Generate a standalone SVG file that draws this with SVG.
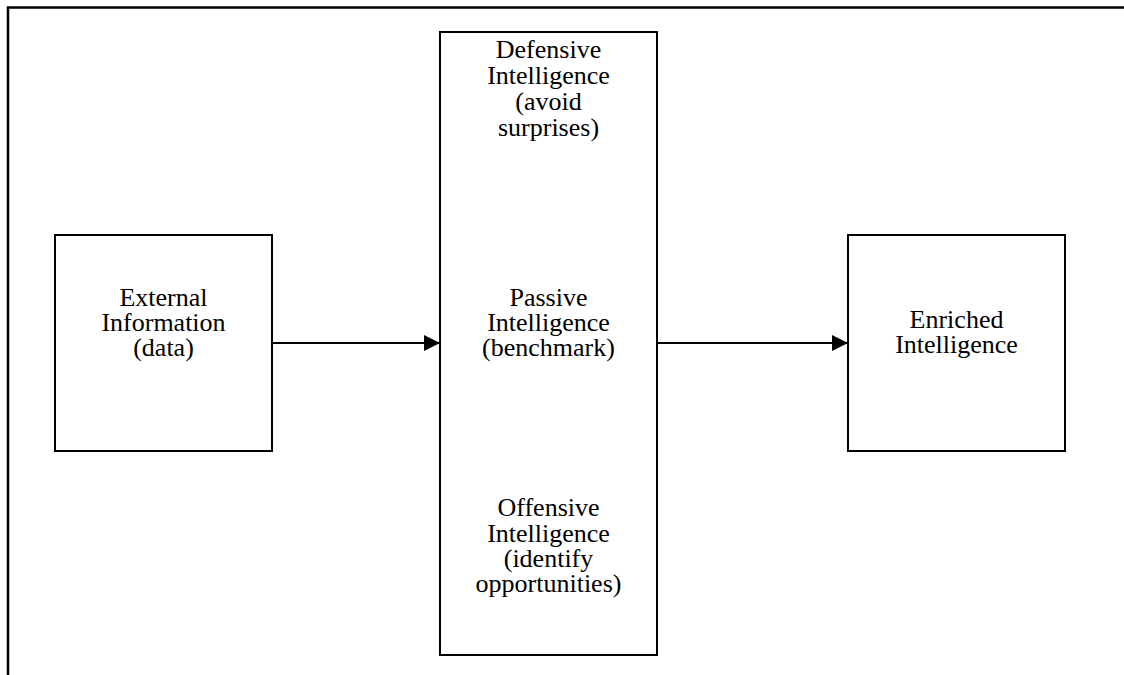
<svg xmlns="http://www.w3.org/2000/svg" width="1124" height="675" viewBox="0 0 1124 675">
  <style>
    .box { fill: #ffffff; stroke: #000000; stroke-width: 2; }
    .frame { fill: none; stroke: #000000; stroke-width: 2.5; }
    .lbl { font-family: "Liberation Serif", "Times New Roman", serif; font-size: 26px; fill: #000000; text-anchor: middle; }
    .conn { fill: none; stroke: #000000; stroke-width: 2; }
  </style>
  <defs>
    <marker id="arrow" viewBox="0 0 16 16" refX="16" refY="8" markerWidth="16" markerHeight="16" markerUnits="userSpaceOnUse" orient="auto">
      <path d="M0,0 L16,8 L0,16 Z" fill="#000000"/>
    </marker>
  </defs>
  <rect width="1124" height="675" fill="#ffffff"/>

  <!-- page frame: top and left edges -->
  <path class="frame" d="M8,675 L8,7.5 L1124,7.5"/>

  <g id="external-information">
    <rect class="box" x="55" y="235" width="217" height="216"/>
    <text class="lbl" y="306"><tspan x="163.5">External</tspan><tspan x="163.5" dy="25">Information</tspan><tspan x="163.5" dy="25">(data)</tspan></text>
  </g>

  <g id="intelligence-types">
    <rect class="box" x="440" y="32" width="217" height="623"/>
    <text class="lbl" y="58"><tspan x="548.5">Defensive</tspan><tspan x="548.5" dy="26">Intelligence</tspan><tspan x="548.5" dy="26">(avoid</tspan><tspan x="548.5" dy="26">surprises)</tspan></text>
    <text class="lbl" y="306"><tspan x="548.5">Passive</tspan><tspan x="548.5" dy="25">Intelligence</tspan><tspan x="548.5" dy="25">(benchmark)</tspan></text>
    <text class="lbl" y="516"><tspan x="548.5">Offensive</tspan><tspan x="548.5" dy="26">Intelligence</tspan><tspan x="548.5" dy="25">(identify</tspan><tspan x="548.5" dy="25">opportunities)</tspan></text>
  </g>

  <g id="enriched-intelligence">
    <rect class="box" x="848" y="235" width="217" height="216"/>
    <text class="lbl" y="328"><tspan x="956.5">Enriched</tspan><tspan x="956.5" dy="25">Intelligence</tspan></text>
  </g>

  <g id="connectors">
    <line class="conn" x1="272" y1="343" x2="440" y2="343" marker-end="url(#arrow)"/>
    <line class="conn" x1="657" y1="343" x2="848" y2="343" marker-end="url(#arrow)"/>
  </g>
</svg>
